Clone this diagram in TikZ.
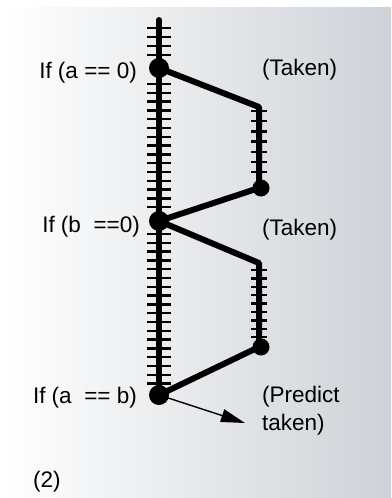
\documentclass[tikz,border=0pt]{standalone}
\usepackage{fontspec}
\setmainfont{Liberation Sans}
\usetikzlibrary{arrows.meta}
\definecolor{bgright}{RGB}{206,210,215}
\tikzset{
  brdot/.style={circle,fill=black,inner sep=0pt,minimum size=#1},
  brdot/.default=20pt,
  lbl/.style={font=\fontsize{22.5}{27}\selectfont,inner sep=0pt,text=black},
  flow/.style={line width=6pt,line cap=round,line join=round},
  rung/.style={line width=2.4pt},
}
\begin{document}
\begin{tikzpicture}[x=1pt,y=-1pt,>=Triangle]
  \useasboundingbox (0,0) rectangle (391,498);
  \shade[left color=white,right color=bgright] (0,7) rectangle (391,498);
  \def\xm{159} \def\xr{259}
  % branch points on the main path and the taken paths
  \node[brdot] (a0) at (\xm,68) {};
  \node[brdot] (b0) at (\xm,221) {};
  \node[brdot] (ab) at (\xm,395) {};
  \node[brdot=17pt] (r1) at (\xr+2,188) {};
  \node[brdot=17pt] (r2) at (\xr+2,347) {};
  \coordinate (top) at (\xm,20);
  \coordinate (c1) at (\xr,107);
  \coordinate (c2) at (\xr,263);
  \coordinate (pt) at (245,423);
  % instruction ticks
  \foreach \y in {28,37,46,55} \draw[rung] ({\xm-12},\y) -- ({\xm+12},\y);
  \foreach \i in {0,...,14} \draw[rung] ({\xm-12},{84+8.8*\i}) -- ({\xm+12},{84+8.8*\i});
  \foreach \i in {0,...,17} \draw[rung] ({\xm-12},{234+8.8*\i}) -- ({\xm+12},{234+8.8*\i});
  \foreach \i in {0,...,6} \draw[rung] ({\xr-8},{111+10.2*\i}) -- ({\xr+8},{111+10.2*\i});
  \foreach \i in {0,...,8} \draw[rung] ({\xr-8},{270+8.4*\i}) -- ({\xr+8},{270+8.4*\i});
  \draw[flow] (top) -- (ab.center);
  \draw[flow] (a0.center) -- (c1) -- (r1.center -| c1) -- (b0.center) -- (c2) -- (r2.center -| c2) -- (ab.center);
  \draw[line width=1.4pt,shorten >=-2pt,{Triangle[length=24pt,width=13pt]}-] (pt) -- (ab);
  % labels
  \node[lbl,anchor=base east] (la0) at (137,78) {If (a == 0)};
  \node[lbl,anchor=base east] (lb0) at (140,232) {If (b ~==0)};
  \node[lbl,anchor=base east] (lab) at (137,403) {If (a ~== b)};
  \node[lbl,anchor=base west] (t1) at (262,75) {(Taken)};
  \node[lbl,anchor=base west] (t2) at (262,235) {(Taken)};
  \node[lbl,anchor=base west] (t3) at (262,402) {(Predict};
  \node[lbl,anchor=base west] (t4) at (262,430) {taken)};
  \node[lbl,anchor=base west] (fig) at (33,487) {(2)};
\end{tikzpicture}
\end{document}
